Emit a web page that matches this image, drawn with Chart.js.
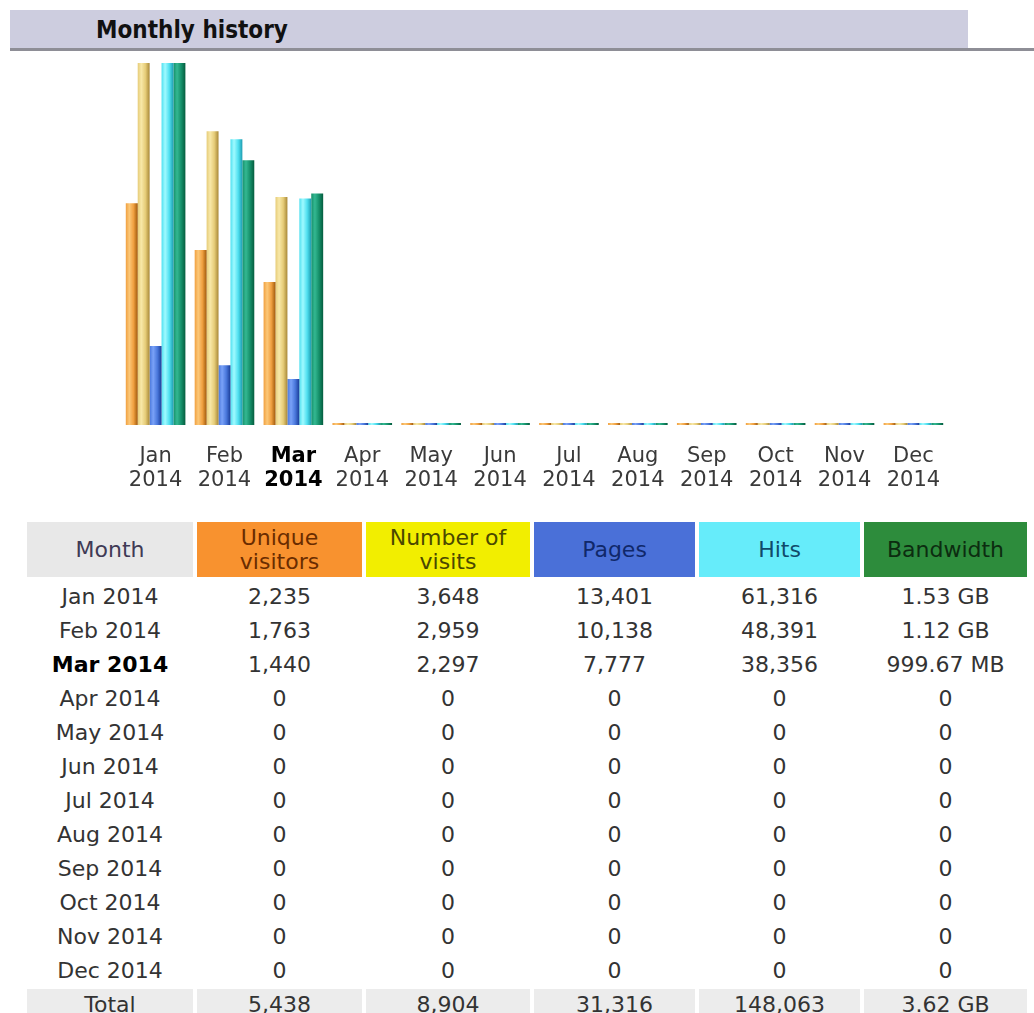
<!DOCTYPE html>
<html>
<head>
<meta charset="utf-8">
<title>Monthly history</title>
<script src="https://cdn.jsdelivr.net/npm/chart.js@4.4.1/dist/chart.umd.min.js"></script>
<style>
  body { margin: 0; background: #fff; width: 1034px; height: 1013px; overflow: hidden; position: relative;
         font-family: "DejaVu Sans", Verdana, sans-serif; }
  #titlebar { position: absolute; left: 10px; top: 10px; width: 958px; height: 38px; background: #cdcddf; }
  #titleline { position: absolute; left: 10px; right: 0; top: 48px; height: 3px; background: #8e8e96; }
  #title { position: absolute; left: 96px; top: 10px; height: 38px; line-height: 40px;
           font-family: "DejaVu Sans Condensed", "DejaVu Sans", sans-serif; font-weight: bold; font-size: 24px; color: #111; }
  #chart { position: absolute; left: 118px; top: 63px; }
  table { position: absolute; left: 23px; top: 518px; border-spacing: 4px; table-layout: fixed;
          font-size: 22px; color: #333; }
  td { text-align: center; padding: 0; height: 30px; white-space: nowrap; }
  thead td { height: 55px; line-height: 24px; }
  tr.current td:first-child { font-weight: bold; color: #000; }
  tr.total td { background: #ececec; }
</style>
</head>
<body>
<div id="titlebar"></div>
<div id="titleline"></div>
<div id="title">Monthly history</div>
<canvas id="chart" width="833" height="432"></canvas>
<table id="tbl">
  <colgroup>
    <col style="width:166px"><col style="width:165px"><col style="width:164px">
    <col style="width:161px"><col style="width:161px"><col style="width:163px">
  </colgroup>
  <thead></thead>
  <tbody></tbody>
</table>
<script>
const MONTHS = ['Jan', 'Feb', 'Mar', 'Apr', 'May', 'Jun', 'Jul', 'Aug', 'Sep', 'Oct', 'Nov', 'Dec'];
const YEAR = '2014';
const CURRENT = 2; // Mar 2014 is shown in bold

const uniqueVisitors = [2235, 1763, 1440, 0, 0, 0, 0, 0, 0, 0, 0, 0];
const visits         = [3648, 2959, 2297, 0, 0, 0, 0, 0, 0, 0, 0, 0];
const pages          = [13401, 10138, 7777, 0, 0, 0, 0, 0, 0, 0, 0, 0];
const hits           = [61316, 48391, 38356, 0, 0, 0, 0, 0, 0, 0, 0, 0];
const bandwidthMB    = [1563.6, 1143.8, 999.67, 0, 0, 0, 0, 0, 0, 0, 0, 0];

const HEADERS = ['Month', 'Unique<br>visitors', 'Number of<br>visits', 'Pages', 'Hits', 'Bandwidth'];
const HEADER_BG = ['#e8e8e8', '#f8922f', '#f2ee00', '#4a70d8', '#66ecfa', '#2d8c3c'];
const HEADER_FG = ['#403a55', '#6a2c00', '#4a4800', '#10286a', '#104a6a', '#0c2c10'];

const CAT_PCT = 0.865;

// bar shading: base, light, dark
const SHADES = [
  ['#f0a040', '#fcc878', '#a05a0c'],
  ['#e6cc78', '#f8e8a8', '#a88838'],
  ['#4a78dc', '#7aa2f8', '#1a3c98'],
  ['#50e0f0', '#a0faff', '#1e9cb0'],
  ['#15906a', '#34b892', '#055c3e']
];

function fmtNum(v) { return v.toLocaleString('en-US'); }
function fmtBw(mb) {
  if (mb === 0) return '0';
  if (mb >= 1024) return (mb / 1024).toFixed(2) + ' GB';
  return mb.toFixed(2) + ' MB';
}
const sum = a => a.reduce((s, v) => s + v, 0);

/**
 * Cylinder-like horizontal gradient for each bar
 */
function barFill(context) {
  const chart = context.chart;
  const shade = SHADES[context.datasetIndex];
  const xs = chart.scales.x;
  if (!chart.chartArea || !xs || context.dataIndex === undefined) return shade[0];
  const cat = xs.getPixelForValue(1) - xs.getPixelForValue(0);
  const groupW = cat * CAT_PCT;
  const bw = groupW / 5;
  const left = xs.getPixelForValue(context.dataIndex) - groupW / 2 + context.datasetIndex * bw;
  const g = chart.ctx.createLinearGradient(left, 0, left + bw, 0);
  g.addColorStop(0, shade[0]);
  g.addColorStop(0.3, shade[1]);
  g.addColorStop(0.65, shade[0]);
  g.addColorStop(1, shade[2]);
  return g;
}

function bars(label, data, axis) {
  return { label, data, yAxisID: axis, backgroundColor: barFill, borderWidth: 0,
           minBarLength: 2, barPercentage: 1, categoryPercentage: CAT_PCT };
}

const chart = new Chart(document.getElementById('chart').getContext('2d'), {
  type: 'bar',
  data: {
    labels: MONTHS.map(m => [m, YEAR]),
    datasets: [
      bars('Unique visitors', uniqueVisitors, 'yVisits'),
      bars('Number of visits', visits, 'yVisits'),
      bars('Pages', pages, 'yHits'),
      bars('Hits', hits, 'yHits'),
      bars('Bandwidth', bandwidthMB, 'yBw')
    ]
  },
  options: {
    responsive: false,
    animation: false,
    layout: { padding: 0 },
    plugins: { legend: { display: false }, tooltip: { enabled: false } },
    scales: {
      x: {
        grid: { display: false },
        border: { display: false },
        afterFit: scale => { scale.height = 70; },
        ticks: {
          padding: 11,
          maxRotation: 0,
          autoSkip: false,
          color: ctx => ctx.index === CURRENT ? '#000' : '#3a3a3a',
          font: ctx => ({ family: 'DejaVu Sans', size: 21, lineHeight: 1.15,
                          weight: ctx.index === CURRENT ? 'bold' : 'normal' })
        }
      },
      yVisits: { display: false, min: 0, max: Math.max(...visits) },
      yHits: { display: false, min: 0, max: Math.max(...hits) },
      yBw: { display: false, min: 0, max: Math.max(...bandwidthMB) }
    }
  }
});
chart.update('none');

// table below the chart
const thead = document.querySelector('#tbl thead');
thead.innerHTML = '<tr>' + HEADERS.map((h, i) =>
  `<td style="background:${HEADER_BG[i]};color:${HEADER_FG[i]}">${h}</td>`).join('') + '</tr>';

const tbody = document.querySelector('#tbl tbody');
let rows = '';
MONTHS.forEach((m, i) => {
  rows += `<tr${i === CURRENT ? ' class="current"' : ''}><td>${m} ${YEAR}</td>` +
    `<td>${fmtNum(uniqueVisitors[i])}</td><td>${fmtNum(visits[i])}</td>` +
    `<td>${fmtNum(pages[i])}</td><td>${fmtNum(hits[i])}</td><td>${fmtBw(bandwidthMB[i])}</td></tr>`;
});
rows += `<tr class="total"><td>Total</td><td>${fmtNum(sum(uniqueVisitors))}</td><td>${fmtNum(sum(visits))}</td>` +
  `<td>${fmtNum(sum(pages))}</td><td>${fmtNum(sum(hits))}</td><td>${fmtBw(sum(bandwidthMB))}</td></tr>`;
tbody.innerHTML = rows;
</script>
</body>
</html>
